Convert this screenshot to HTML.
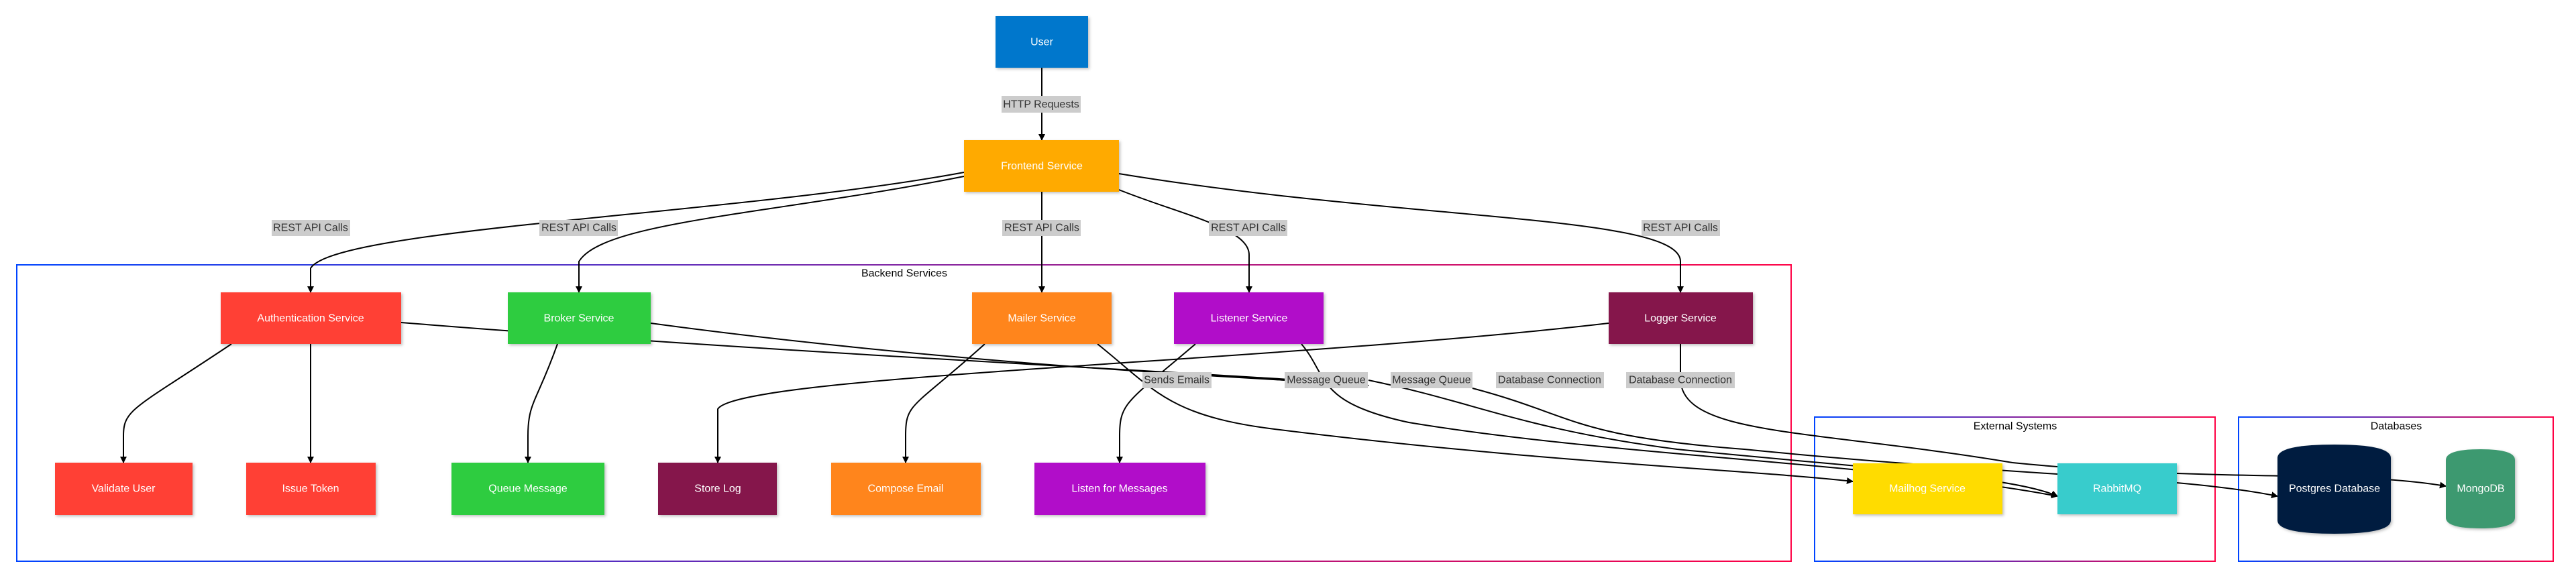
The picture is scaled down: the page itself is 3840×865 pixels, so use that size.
<!DOCTYPE html>
<html><head><meta charset="utf-8"><style>
html,body{margin:0;padding:0;background:#fff;}
svg{display:block;font-family:"Liberation Sans",Arial,sans-serif;}
.n{font-size:16px;fill:#fff;text-anchor:middle;dominant-baseline:central;}
.l{font-size:16px;fill:#333;text-anchor:middle;dominant-baseline:central;}
.t{font-size:16px;fill:#000;text-anchor:middle;dominant-baseline:central;}
.e{fill:none;stroke:#000;stroke-width:2;}
</style></head><body>
<svg width="3840" height="865" viewBox="0 0 3840 865" xmlns="http://www.w3.org/2000/svg">
<defs>
<linearGradient id="g" x1="0" y1="0" x2="1" y2="0"><stop offset="0" stop-color="#0044ff"/><stop offset="1" stop-color="#ff0044"/></linearGradient>
<marker id="a" viewBox="0 0 10 10" refX="9" refY="5" markerWidth="10" markerHeight="10" markerUnits="userSpaceOnUse" orient="auto"><path d="M0,0 L10,5 L0,10 z" fill="#000"/></marker>
<filter id="s" x="-10%" y="-10%" width="130%" height="130%"><feDropShadow dx="2" dy="2" stdDeviation="2" flood-opacity="0.25"/></filter>
</defs>
<!-- clusters -->
<rect x="25" y="395" width="2645" height="442" fill="none" stroke="url(#g)" stroke-width="2"/>
<text class="t" x="1348" y="408">Backend Services</text>
<rect x="2705" y="622" width="597" height="215" fill="none" stroke="url(#g)" stroke-width="2"/>
<text class="t" x="3004" y="636">External Systems</text>
<rect x="3337" y="622" width="469" height="215" fill="none" stroke="url(#g)" stroke-width="2"/>
<text class="t" x="3572" y="636">Databases</text>
<!-- edges -->
<path class="e" marker-end="url(#a)" d="M1553,101 L1553,209"/>
<path class="e" marker-end="url(#a)" d="M1437,257 C1100,320 500,340 463,400 L463,436"/>
<path class="e" marker-end="url(#a)" d="M1437,263 C1150,320 900,330 863,390 L863,436"/>
<path class="e" marker-end="url(#a)" d="M1553,286 L1553,436"/>
<path class="e" marker-end="url(#a)" d="M1668,283 C1760,320 1862,340 1862,380 L1862,436"/>
<path class="e" marker-end="url(#a)" d="M1668,259 C2100,330 2505,320 2505,390 L2505,436"/>
<path class="e" marker-end="url(#a)" d="M345,513 C200,610 184,610 184,650 L184,690"/>
<path class="e" marker-end="url(#a)" d="M463,513 L463,690"/>
<path class="e" marker-end="url(#a)" d="M831,513 C800,600 787,600 787,650 L787,690"/>
<path class="e" marker-end="url(#a)" d="M2398,482 C1900,540 1100,560 1070,610 L1070,690"/>
<path class="e" marker-end="url(#a)" d="M1468,513 C1360,610 1350,600 1350,650 L1350,690"/>
<path class="e" marker-end="url(#a)" d="M1782,513 C1680,600 1669,600 1669,650 L1669,690"/>
<path class="e" marker-end="url(#a)" d="M1636,513 C1720,580 1740,620 1900,640 C2300,690 2600,700 2762,718"/>
<path class="e" d="M598,481 C1200,530 1900,560 2040,575"/>
<path class="e" d="M970,482 C1400,540 1800,560 1915,567"/>
<path class="e" marker-end="url(#a)" d="M2040,567 C2200,600 2270,640 2500,670 C2800,700 3000,710 3067,740"/>
<path class="e" marker-end="url(#a)" d="M1940,513 C1980,560 1960,600 2100,630 C2400,680 2800,690 3067,740"/>
<path class="e" marker-end="url(#a)" d="M2195,579 C2350,620 2340,650 2600,670 C3000,710 3250,710 3395,740"/>
<path class="e" marker-end="url(#a)" d="M2505,513 L2505,567 C2510,650 2700,640 3000,690 C3300,720 3500,700 3646,725"/>
<!-- labels -->
<g>
<rect x="1493" y="143" width="118" height="25" fill="#ccc"/><text class="l" x="1552" y="156">HTTP Requests</text>
<rect x="405" y="328" width="117" height="24" fill="#ccc"/><text class="l" x="463" y="340">REST API Calls</text>
<rect x="804" y="328" width="117" height="24" fill="#ccc"/><text class="l" x="863" y="340">REST API Calls</text>
<rect x="1494" y="328" width="117" height="24" fill="#ccc"/><text class="l" x="1553" y="340">REST API Calls</text>
<rect x="1802" y="328" width="117" height="24" fill="#ccc"/><text class="l" x="1861" y="340">REST API Calls</text>
<rect x="2447" y="328" width="117" height="24" fill="#ccc"/><text class="l" x="2505" y="340">REST API Calls</text>
<rect x="1703" y="555" width="103" height="24" fill="#ccc"/><text class="l" x="1754" y="567">Sends Emails</text>
<rect x="1915" y="555" width="124" height="24" fill="#ccc"/><text class="l" x="1977" y="567">Message Queue</text>
<rect x="2073" y="555" width="122" height="24" fill="#ccc"/><text class="l" x="2134" y="567">Message Queue</text>
<rect x="2230" y="555" width="161" height="24" fill="#ccc"/><text class="l" x="2310" y="567">Database Connection</text>
<rect x="2424" y="555" width="162" height="24" fill="#ccc"/><text class="l" x="2505" y="567">Database Connection</text>
</g>
<!-- nodes -->
<g filter="url(#s)">
<rect x="1484" y="24" width="138" height="77" fill="#0077cc"/>
<rect x="1437" y="209" width="231" height="77" fill="#ffaa00"/>
<rect x="329" y="436" width="269" height="77" fill="#ff4136"/>
<rect x="757" y="436" width="213" height="77" fill="#2ecc40"/>
<rect x="1449" y="436" width="208" height="77" fill="#ff851b"/>
<rect x="1750" y="436" width="223" height="77" fill="#b10dc9"/>
<rect x="2398" y="436" width="215" height="77" fill="#85144b"/>
<rect x="82" y="690" width="205" height="78" fill="#ff4136"/>
<rect x="367" y="690" width="193" height="78" fill="#ff4136"/>
<rect x="673" y="690" width="228" height="78" fill="#2ecc40"/>
<rect x="981" y="690" width="177" height="78" fill="#85144b"/>
<rect x="1239" y="690" width="223" height="78" fill="#ff851b"/>
<rect x="1542" y="690" width="255" height="78" fill="#b10dc9"/>
<rect x="2762" y="691" width="223" height="76" fill="#ffdc00"/>
<rect x="3067" y="691" width="178" height="76" fill="#39cccc"/>
<path d="M3395,683 Q3395,663 3480,663 Q3564,663 3564,683 L3564,776 Q3564,796 3480,796 Q3395,796 3395,776 Z" fill="#001f3f"/>
<path d="M3646,686 Q3646,670 3698,670 Q3749,670 3749,686 L3749,772 Q3749,788 3698,788 Q3646,788 3646,772 Z" fill="#3d9970"/>
</g>
<text class="n" x="1553" y="63">User</text>
<text class="n" x="1553" y="248">Frontend Service</text>
<text class="n" x="463" y="475">Authentication Service</text>
<text class="n" x="863" y="475">Broker Service</text>
<text class="n" x="1553" y="475">Mailer Service</text>
<text class="n" x="1862" y="475">Listener Service</text>
<text class="n" x="2505" y="475">Logger Service</text>
<text class="n" x="184" y="729">Validate User</text>
<text class="n" x="463" y="729">Issue Token</text>
<text class="n" x="787" y="729">Queue Message</text>
<text class="n" x="1070" y="729">Store Log</text>
<text class="n" x="1350" y="729">Compose Email</text>
<text class="n" x="1669" y="729">Listen for Messages</text>
<text class="n" x="2873" y="729">Mailhog Service</text>
<text class="n" x="3156" y="729">RabbitMQ</text>
<text class="n" x="3480" y="729">Postgres Database</text>
<text class="n" x="3698" y="729">MongoDB</text>
</svg>
</body></html>
